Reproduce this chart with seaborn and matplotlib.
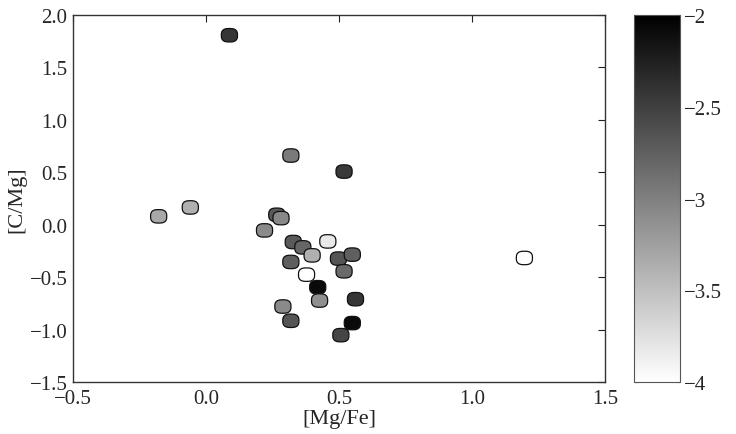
import numpy as np
import pandas as pd
import matplotlib
matplotlib.use("Agg")
import matplotlib.pyplot as plt
from matplotlib.path import Path
import seaborn as sns

mg_fe = [0.088, 0.319, 0.519, -0.178, -0.059, 0.266, 0.282, 0.220, 0.328, 0.364,
         0.458, 0.399, 0.319, 0.498, 0.550, 0.519, 0.378, 0.420, 0.427, 0.562,
         0.289, 0.319, 0.550, 0.507, 1.197]
c_mg = [1.807, 0.660, 0.507, 0.080, 0.165, 0.095, 0.063, -0.054, -0.165, -0.216,
        -0.159, -0.292, -0.355, -0.323, -0.285, -0.444, -0.476, -0.596, -0.723, -0.710,
        -0.780, -0.916, -0.938, -1.053, -0.317]
fe_h = [-2.42, -2.96, -2.45, -3.32, -3.38, -2.70, -3.07, -3.08, -2.70, -2.80,
        -3.82, -3.38, -2.74, -2.67, -2.75, -2.83, -4.00, -2.08, -3.12, -2.42,
        -3.08, -2.67, -2.08, -2.54, -4.00]

x_ticks = [-0.5, 0.0, 0.5, 1.0, 1.5]
x_labels = ["\u22120.5", "0.0", "0.5", "1.0", "1.5"]
y_ticks = [-1.5, -1.0, -0.5, 0.0, 0.5, 1.0, 1.5, 2.0]
y_labels = ["\u22121.5", "\u22121.0", "\u22120.5", "0.0", "0.5", "1.0", "1.5", "2.0"]
cb_ticks = [-4, -3.5, -3, -2.5, -2]
cb_labels = ["\u22124", "\u22123.5", "\u22123", "\u22122.5", "\u22122"]

df = pd.DataFrame({"mgfe": mg_fe, "cmg": c_mg, "feh": fe_h})

sns.set_style("white")
plt.rcParams["font.family"] = ["Liberation Serif", "DejaVu Serif"]
plt.rcParams["xtick.direction"] = "in"
plt.rcParams["ytick.direction"] = "in"

# rounded, slightly wide marker (superellipse)
t = np.linspace(0, 2 * np.pi, 80)
p = 0.72
mx = 1.2 * np.sign(np.cos(t)) * np.abs(np.cos(t)) ** p
my = np.sign(np.sin(t)) * np.abs(np.sin(t)) ** p
marker = Path(np.column_stack([mx, my]), closed=True)

fig = plt.figure(figsize=(7.36, 4.35), dpi=100)
ax = fig.add_axes([0.0992, 0.1195, 0.7228, 0.8437])
cax = fig.add_axes([0.8614, 0.1195, 0.0625, 0.8437])

sns.scatterplot(data=df, x="mgfe", y="cmg", hue="feh", palette="gray_r",
                hue_norm=(-4, -2), marker=marker, s=135, edgecolor="#111111",
                linewidth=0.9, legend=False, ax=ax)

ax.set_xlim(-0.5, 1.5)
ax.set_ylim(-1.5, 2.0)
ax.set_xticks(x_ticks)
ax.set_xticklabels(x_labels)
ax.set_yticks(y_ticks)
ax.set_yticklabels(y_labels)
ax.tick_params(labelsize=15, length=5, top=True, right=True, width=0.8,
               color="#222222")
ax.tick_params(axis="x", pad=5)
ax.tick_params(axis="y", pad=4)
ax.set_xlabel("[Mg/Fe]", fontsize=16, labelpad=1)
ax.set_ylabel("[C/Mg]", fontsize=16, labelpad=2)
for s in ax.spines.values():
    s.set_color("#333333")
    s.set_linewidth(1.0)

sm = plt.cm.ScalarMappable(cmap="gray_r", norm=plt.Normalize(-4, -2))
cb = fig.colorbar(sm, cax=cax)
cb.set_ticks(cb_ticks)
cb.set_ticklabels(cb_labels)
cb.ax.tick_params(labelsize=15, direction="in", length=3, width=0.8,
                  left=True, right=True, pad=3)
cb.outline.set_edgecolor("#555555")

fig.savefig("out.png", dpi=100)
